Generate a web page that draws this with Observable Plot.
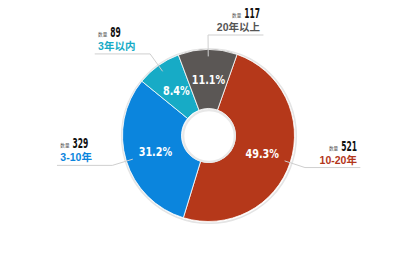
<!DOCTYPE html>
<html>
<head>
<meta charset="utf-8">
<script src="https://cdn.jsdelivr.net/npm/d3@7"></script>
<script src="https://cdn.jsdelivr.net/npm/@observablehq/plot@0.6"></script>
<style>
  html, body { margin: 0; padding: 0; background: #ffffff; }
  #chart svg { display: block; }
</style>
</head>
<body>
<div id="chart"></div>
<script>
// ---- data (clockwise from the top-right) ----
const categories = ["10-20年", "3-10年", "3年以内", "20年以上"];
const counts = [521, 329, 89, 117];
const countWord = "数量";
const sliceColors = ["#b5381a", "#0b85dd", "#17abc6", "#5b5755"];
const labelColors = ["#b3361a", "#0b85dd", "#17abc6", "#555555"];

// ---- layout ----
const W = 412, H = 265;
const CX = 208.5, CY = 135.5;        // donut centre in px
const R_OUT = 86, R_IN = 27;
const R_PCT = 56;                    // radius of % labels
const R_LEAD0 = 80, R_LEAD1 = 101, LEAD_H = 55;
const START = 19.4 * Math.PI / 180;

const numFont = "'DejaVu Sans Condensed', 'DejaVu Sans', sans-serif";
const cjkFont = "'Noto Sans CJK SC', 'Noto Sans', sans-serif";
const catFont = "'Liberation Sans', 'Noto Sans CJK SC', sans-serif";
const NUM_SIZE = 14, NUM_SCALE = 0.6;
const PCT_SIZE = 12.5, PCT_SCALE = 0.86;
const WORD_SIZE = 4.6, CAT_SIZE = 10.5;

const total = d3.sum(counts);
const fmtPct = d3.format(".1%");

const pie = d3.pie().sort(null).startAngle(START).endAngle(START + 2 * Math.PI);
const arcs = pie(counts).map((a, i) => {
  const mid = (a.startAngle + a.endAngle) / 2;
  return {...a, i, mid, category: categories[i], count: counts[i], pct: fmtPct(counts[i] / total)};
});
const polar = (r, ang) => [r * Math.sin(ang), -r * Math.cos(ang)];
const sideOf = a => (Math.sin(a.mid) >= -0.02 ? 1 : -1);

// leader lines: radial segment then horizontal segment
const leaders = arcs.flatMap(a => {
  const side = sideOf(a);
  const p0 = polar(R_LEAD0, a.mid), p1 = polar(R_LEAD1, a.mid);
  const p2 = [p1[0] + side * LEAD_H, p1[1]];
  return [p0, p1, p2].map(p => ({key: a.i, x: p[0], y: p[1]}));
});

const ctx = document.createElement("canvas").getContext("2d");
function textWidth(s, size, family, weight) {
  ctx.font = `${weight} ${size}px ${family}`;
  return ctx.measureText(s).width;
}

const outside = arcs.map(a => {
  const side = sideOf(a);
  const p1 = polar(R_LEAD1, a.mid);
  const xEnd = p1[0] + side * (LEAD_H - 3);
  const numW = textWidth(String(a.count), NUM_SIZE, numFont, "bold") * NUM_SCALE;
  const wordW = textWidth(countWord, WORD_SIZE, cjkFont, "normal");
  return {
    ...a, side, yLine: p1[1], xEnd,
    wordX: side > 0 ? xEnd - numW - 3 : xEnd,
    numX: side > 0 ? xEnd : xEnd + wordW + 3
  };
});
const rightLabels = outside.filter(d => d.side > 0);
const leftLabels = outside.filter(d => d.side < 0);

function slices(index, scales) {
  const x0 = scales.x(0), y0 = scales.y(0);
  const k = Math.abs(scales.x(1) - scales.x(0));
  const gen = d3.arc().innerRadius(R_IN * k).outerRadius(R_OUT * k);
  const g = d3.create("svg:g").attr("transform", `translate(${x0},${y0})`);
  g.selectAll("path").data(arcs).join("path")
    .attr("d", gen)
    .attr("fill", d => sliceColors[d.i])
    .attr("stroke", "#ffffff")
    .attr("stroke-width", 0.8);
  return g.node();
}

function labelMarks(data, anchor) {
  return [
    Plot.text(data, {
      x: "xEnd", y: d => d.yLine - 4, text: "category", textAnchor: anchor,
      lineAnchor: "bottom", fill: d => labelColors[d.i], fontSize: CAT_SIZE, fontWeight: "bold",
      fontFamily: catFont
    }),
    Plot.text(data, {
      x: "numX", y: d => d.yLine - 17, text: d => String(d.count), textAnchor: anchor,
      lineAnchor: "bottom", fill: "#111111", fontSize: NUM_SIZE, fontWeight: "bold", fontFamily: numFont
    }),
    Plot.text(data, {
      x: "wordX", y: d => d.yLine - 18, text: () => countWord, textAnchor: anchor,
      lineAnchor: "bottom", fill: "#555555", fontSize: WORD_SIZE, fontFamily: cjkFont
    })
  ];
}

const chart = Plot.plot({
  width: W, height: H, margin: 0,
  x: {type: "linear", domain: [-CX, W - CX], range: [0, W], axis: null},
  y: {type: "linear", domain: [-CY, H - CY], range: [0, H], axis: null},
  style: {background: "#ffffff", overflow: "visible"},
  marks: [
    Plot.dot([{x: 0, y: 0}], {x: "x", y: "y", r: R_OUT + 1.3, fill: "none", stroke: "#e4e4e4", strokeWidth: 1.6}),
    slices,
    Plot.dot([{x: 0, y: 0}], {x: "x", y: "y", r: R_IN - 1.2, fill: "#ffffff", stroke: "#e8e8e8", strokeWidth: 2.2}),
    Plot.line(leaders, {x: "x", y: "y", z: "key", stroke: "#cfcfcf", strokeWidth: 1, curve: "linear"}),
    Plot.text(arcs, {
      x: d => polar(R_PCT, d.mid)[0], y: d => polar(R_PCT, d.mid)[1],
      text: "pct", fill: "#ffffff", fontSize: PCT_SIZE, fontWeight: "bold", fontFamily: numFont
    }),
    ...labelMarks(rightLabels, "end"),
    ...labelMarks(leftLabels, "start")
  ]
});
document.getElementById("chart").appendChild(chart);

// condense the heavy numeric type horizontally (the reference uses a condensed face)
chart.querySelectorAll("text").forEach(t => {
  const fs = parseFloat(getComputedStyle(t).fontSize);
  const s = fs === NUM_SIZE ? NUM_SCALE : fs === PCT_SIZE ? PCT_SCALE : null;
  if (!s) return;
  const tr = t.getAttribute("transform");
  if (tr) t.setAttribute("transform", `${tr} scale(${s},1)`);
  else {
    const x = +t.getAttribute("x") || 0, y = +t.getAttribute("y") || 0;
    t.removeAttribute("x"); t.removeAttribute("y");
    t.setAttribute("transform", `translate(${x},${y}) scale(${s},1)`);
  }
});
</script>
</body>
</html>
